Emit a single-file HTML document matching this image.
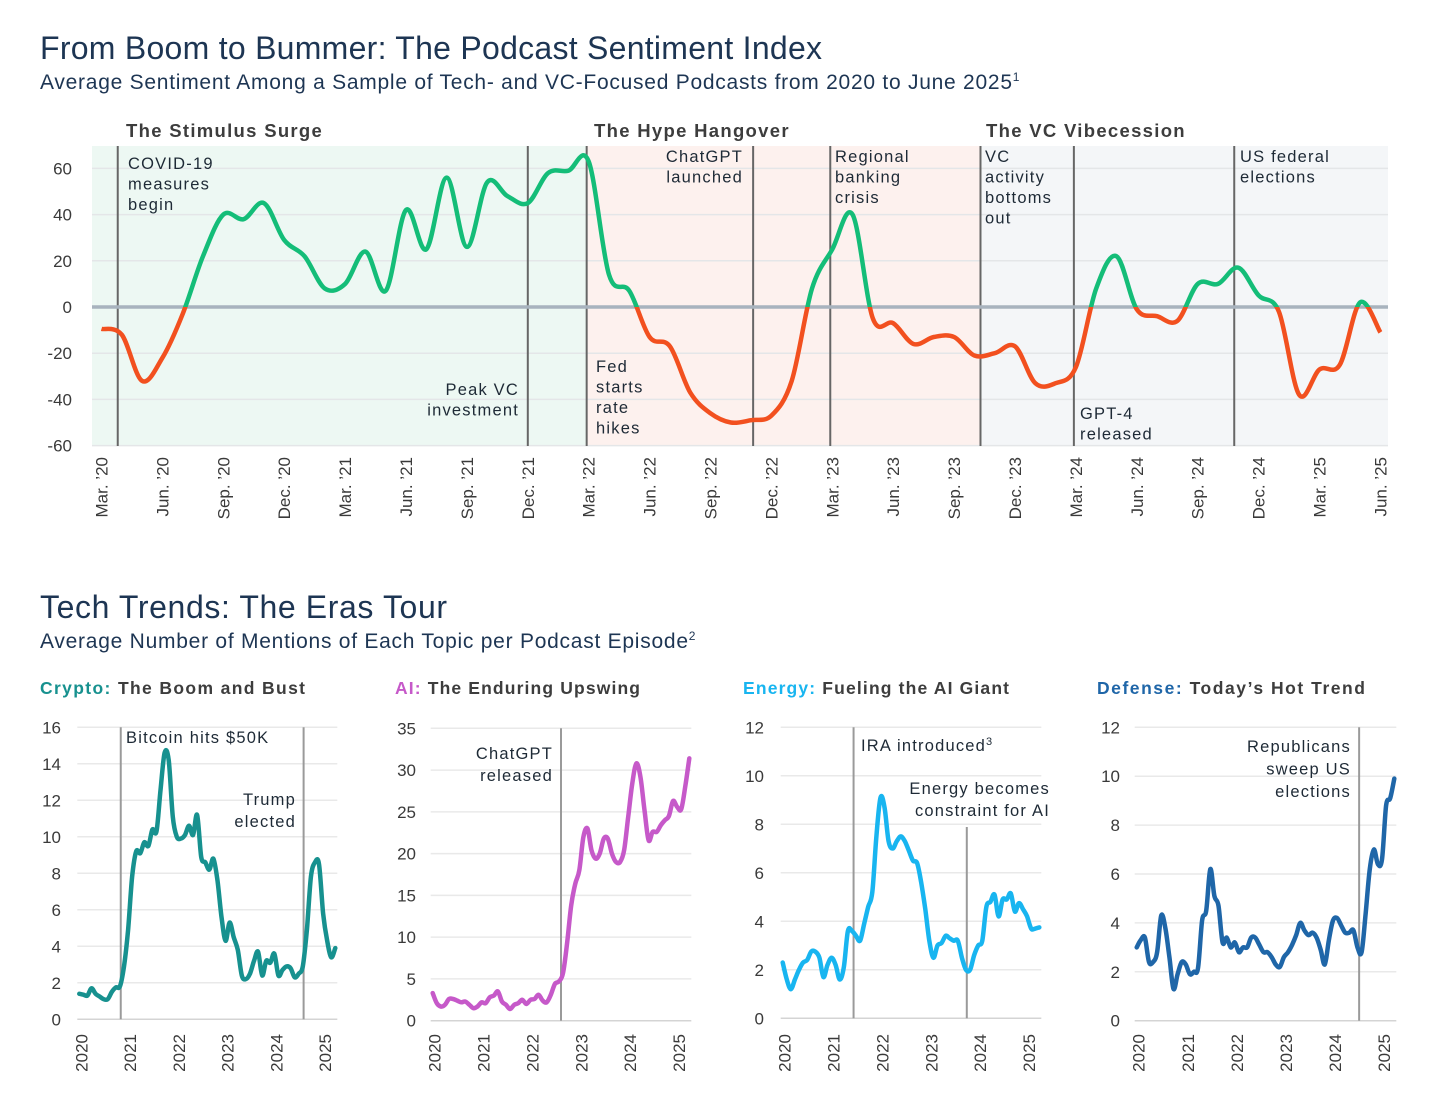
<!DOCTYPE html>
<html><head><meta charset="utf-8">
<style>
html,body{margin:0;padding:0;background:#fff;}
svg{display:block;font-family:"Liberation Sans",sans-serif;}
.ann{font-size:16.5px;fill:#1e2a36;letter-spacing:1.2px;}
.tick{font-size:17px;fill:#3a3a3a;}
.sec{font-size:18.5px;font-weight:bold;fill:#3d3d3d;letter-spacing:1.3px;}
.st{font-size:17.5px;font-weight:bold;fill:#3d3d3d;}
</style></head>
<body>
<svg id="c" width="1456" height="1103" viewBox="0 0 1456 1103">
<text x="40" y="59" font-size="32" fill="#1d3553" textLength="782">From Boom to Bummer: The Podcast Sentiment Index</text>
<text x="40" y="89" font-size="21" fill="#1d3553"><tspan textLength="972">Average Sentiment Among a Sample of Tech- and VC-Focused Podcasts from 2020 to June 2025</tspan><tspan font-size="12" dy="-8">1</tspan></text>
<text x="40" y="618" font-size="32" fill="#1d3553" textLength="407">Tech Trends: The Eras Tour</text>
<text x="40" y="648" font-size="21" fill="#1d3553"><tspan textLength="648">Average Number of Mentions of Each Topic per Podcast Episode</tspan><tspan font-size="12" dy="-8">2</tspan></text>

<g id="top"></g>
<g id="small"></g>

<text class="sec" x="126" y="137">The Stimulus Surge</text>
<text class="sec" x="594" y="137">The Hype Hangover</text>
<text class="sec" x="986" y="137">The VC Vibecession</text>

<g>
<text class="ann" x="128" y="169"><tspan x="128">COVID-19</tspan><tspan x="128" dy="20.5">measures</tspan><tspan x="128" dy="20.5">begin</tspan></text>
<text class="ann" x="519" y="395" text-anchor="end"><tspan x="519">Peak VC</tspan><tspan x="519" dy="20.5">investment</tspan></text>
<text class="ann" x="596" y="372"><tspan x="596">Fed</tspan><tspan x="596" dy="20.5">starts</tspan><tspan x="596" dy="20.5">rate</tspan><tspan x="596" dy="20.5">hikes</tspan></text>
<text class="ann" x="743" y="162" text-anchor="end"><tspan x="743">ChatGPT</tspan><tspan x="743" dy="20.5">launched</tspan></text>
<text class="ann" x="835" y="162"><tspan x="835">Regional</tspan><tspan x="835" dy="20.5">banking</tspan><tspan x="835" dy="20.5">crisis</tspan></text>
<text class="ann" x="985" y="162"><tspan x="985">VC</tspan><tspan x="985" dy="20.5">activity</tspan><tspan x="985" dy="20.5">bottoms</tspan><tspan x="985" dy="20.5">out</tspan></text>
<text class="ann" x="1080" y="419"><tspan x="1080">GPT-4</tspan><tspan x="1080" dy="20.5">released</tspan></text>
<text class="ann" x="1240" y="162"><tspan x="1240">US federal</tspan><tspan x="1240" dy="20.5">elections</tspan></text>
</g>

<text class="st" x="40" y="694" textLength="265"><tspan fill="#17918f">Crypto:</tspan> The Boom and Bust</text>
<text class="st" x="395" y="694" textLength="245"><tspan fill="#c659c9">AI:</tspan> The Enduring Upswing</text>
<text class="st" x="743" y="694" textLength="266"><tspan fill="#18b5f0">Energy:</tspan> Fueling the AI Giant</text>
<text class="st" x="1097" y="694" textLength="268"><tspan fill="#1f66a8">Defense:</tspan> Today’s Hot Trend</text>

<g>
<text class="ann" x="126" y="743">Bitcoin hits $50K</text>
<text class="ann" x="296" y="805" text-anchor="end"><tspan x="296">Trump</tspan><tspan x="296" dy="22">elected</tspan></text>
<text class="ann" x="553" y="759" text-anchor="end"><tspan x="553">ChatGPT</tspan><tspan x="553" dy="22">released</tspan></text>
<text class="ann" x="861" y="751">IRA introduced<tspan font-size="11" dy="-6">3</tspan></text>
<text class="ann" x="1050" y="794" text-anchor="end"><tspan x="1050">Energy becomes</tspan><tspan x="1050" dy="22">constraint for AI</tspan></text>
<text class="ann" x="1351" y="752" text-anchor="end"><tspan x="1351">Republicans</tspan><tspan x="1351" dy="22.5">sweep US</tspan><tspan x="1351" dy="22.5">elections</tspan></text>
</g>
</svg>
<script>
// ===== Top chart data (monthly, Mar 2020 = month 0) =====
const sentimentValues = [-9.5,-12,-32,-22,-3,22,40,38,45,29,22,8,10,24,7,42,25,56,26,54,48,45,58,59,63,14,7,-13,-17,-37,-46,-50,-49,-47,-32,8,25,40,-5,-7,-16,-13,-13,-21,-20,-17,-33,-33,-26,8,22,-1,-4,-6,10,10,17,5,-2,-38,-27,-25,2,-11];
const sentimentTicks = [-60,-40,-20,0,20,40,60];
const quarterLabels = ["Mar. ’20","Jun. ’20","Sep. ’20","Dec. ’20","Mar. ’21","Jun. ’21","Sep. ’21","Dec. ’21","Mar. ’22","Jun. ’22","Sep. ’22","Dec. ’22","Mar. ’23","Jun. ’23","Sep. ’23","Dec. ’23","Mar. ’24","Jun. ’24","Sep. ’24","Dec. ’24","Mar. ’25","Jun. ’25"];
const eventMonths = [0.8,21,23.9,32.1,35.9,43.3,47.9,55.8];
const eraBounds = [-0.5,23.9,43.3,63.4];

// ===== Small chart data (monthly, Jan 2020 = month 0) =====
const cryptoValues = [1.4,1.35,1.3,1.7,1.4,1.25,1.1,1.1,1.5,1.75,1.8,2.9,4.9,7.8,9.2,9.1,9.7,9.5,10.4,10.3,12.6,14.6,14.2,11.1,10,9.9,10.1,10.6,10.1,11.2,8.9,8.6,8.2,8.8,7.6,5.6,4.3,5.3,4.5,3.8,2.4,2.2,2.5,3.2,3.7,2.4,3.2,3.1,3.6,2.4,2.7,2.9,2.8,2.3,2.5,2.9,4.9,7.8,8.6,8.5,5.8,4.3,3.4,3.9];
const aiValues = [3.3,2.1,1.7,1.9,2.6,2.6,2.4,2.2,2.3,1.9,1.5,1.7,2.2,2.1,2.8,3.0,3.5,2.3,1.9,1.4,1.9,2.1,2.5,2.0,2.5,2.6,3.1,2.4,2.2,3.1,4.4,4.7,5.7,9.3,13.8,16.4,18,22,23,20.4,19.4,20,21.8,21.8,20,19,19,20.4,24.4,28.4,30.8,29.2,25.2,21.6,22.6,22.6,23.4,24,24.5,26.3,25.6,25.3,28,31.4];
const energyValues = [2.3,1.6,1.2,1.6,2.0,2.3,2.4,2.75,2.75,2.5,1.7,2.2,2.5,2.2,1.6,2.1,3.6,3.6,3.4,3.2,3.9,4.6,5.2,7.5,9.1,8.7,7.3,7.0,7.3,7.5,7.3,6.9,6.5,6.4,5.6,4.5,3.2,2.5,3.0,3.1,3.4,3.3,3.2,3.2,2.5,2.0,2.0,2.6,3.0,3.2,4.6,4.8,5.1,4.2,4.9,4.9,5.15,4.4,4.75,4.5,4.2,3.7,3.7,3.75];
const defenseValues = [3.0,3.3,3.4,2.4,2.4,2.8,4.3,3.8,2.6,1.3,1.9,2.4,2.3,1.9,2.0,2.15,4.1,4.5,6.2,5.1,4.7,3.2,3.4,3.0,3.2,2.8,3.0,3.0,3.4,3.4,3.1,2.8,2.8,2.6,2.3,2.2,2.6,2.8,3.1,3.5,4.0,3.7,3.5,3.6,3.4,2.9,2.3,3.3,4.1,4.2,3.9,3.6,3.6,3.7,3.0,2.8,4.4,6.2,7.0,6.4,6.6,8.8,9.1,9.9];
const yearLabels = ["2020","2021","2022","2023","2024","2025"];
const cryptoTicks = [0,2,4,6,8,10,12,14,16];
const aiTicks = [0,5,10,15,20,25,30,35];
const energyTicks = [0,2,4,6,8,10,12];
const defenseTicks = [0,2,4,6,8,10,12];
const cryptoEvents = [10.2,55.2];
const aiEvents = [31.5];
const energyEvents = [17.4,45.2];
const defenseEvents = [54.4];

const NS = "http://www.w3.org/2000/svg";
function mk(parent, tag, attrs){ const e=document.createElementNS(NS,tag); for(const k in attrs) e.setAttribute(k,attrs[k]); parent.appendChild(e); return e; }
function smooth(p){
  let d="M"+p[0][0].toFixed(1)+","+p[0][1].toFixed(1);
  for(let i=0;i<p.length-1;i++){
    const p0=p[i-1]||p[i], p1=p[i], p2=p[i+1], p3=p[i+2]||p2;
    const c1x=p1[0]+(p2[0]-p0[0])/6, c1y=p1[1]+(p2[1]-p0[1])/6;
    const c2x=p2[0]-(p3[0]-p1[0])/6, c2y=p2[1]-(p3[1]-p1[1])/6;
    d+=" C"+c1x.toFixed(1)+","+c1y.toFixed(1)+" "+c2x.toFixed(1)+","+c2y.toFixed(1)+" "+p2[0].toFixed(1)+","+p2[1].toFixed(1);
  }
  return d;
}

// ===== Top chart =====
(function(){
  const g=document.getElementById('top');
  const X0=92, X1=1388, Y0=146, Y1=446;
  const xS = m => 101.5 + m*20.3;
  const yS = v => 307 - v*2.31;
  const eraColors=["#edf8f3","#fdf1ee","#f4f6f8"];
  for(let i=0;i<3;i++){
    const a=Math.max(X0,xS(eraBounds[i])), b=Math.min(X1,xS(eraBounds[i+1]));
    const r=mk(g,'rect',{x:a,y:Y0,width:b-a,height:Y1-Y0,fill:eraColors[i]});
    
    
  }
  sentimentTicks.forEach(t=>{
    const l=mk(g,'line',{x1:X0,x2:X1,y1:yS(t),y2:yS(t),stroke:"#e4e6e8","stroke-width":1.5});
    
    
    const tx=mk(g,'text',{x:72,y:yS(t)+6,"text-anchor":"end",class:"tick"});
    tx.textContent=t;
    
    
  });
  eventMonths.forEach(m=>{
    const l=mk(g,'line',{x1:xS(m),x2:xS(m),y1:Y0,y2:Y1,stroke:"#666","stroke-width":2});
    
    
  });
  const z=mk(g,'line',{x1:X0,x2:X1,y1:yS(0),y2:yS(0),stroke:"#a8b3be","stroke-width":3.5});
  
  
  quarterLabels.forEach((lab,i)=>{
    const x=xS(i*3);
    const tx=mk(g,'text',{transform:"translate("+(x+6)+",457) rotate(-90)","text-anchor":"end",class:"tick"});
    tx.textContent=lab;
    
    
  });
  const defs=mk(g,'defs',{});
  const cu=mk(defs,'clipPath',{id:'above'}); mk(cu,'rect',{x:0,y:0,width:1456,height:yS(0)});
  const cd=mk(defs,'clipPath',{id:'below'}); mk(cd,'rect',{x:0,y:yS(0),width:1456,height:600});
  const pts=sentimentValues.map((v,i)=>[xS(i),yS(v)]);
  const d=smooth(pts);
  const pg=mk(g,'path',{d:d,fill:"none",stroke:"#14bd78","stroke-width":4.5,"stroke-linejoin":"round","clip-path":"url(#above)"});
  
  
  const pr=mk(g,'path',{d:d,fill:"none",stroke:"#f2501f","stroke-width":4.5,"stroke-linejoin":"round","clip-path":"url(#below)"});
  
  
})();

// ===== Small charts =====
function smallChart(cfg){
  const g=document.getElementById('small');
  const sg=mk(g,'g',{});
  
  
  const xS = m => cfg.x0 + m*(cfg.x1-cfg.x0)/63;
  const yS = v => cfg.yb - v*(cfg.yb-cfg.yt)/cfg.max;
  cfg.ticks.forEach(t=>{
    const l=mk(sg,'line',{x1:cfg.x0-2,x2:cfg.x1+2,y1:yS(t),y2:yS(t),stroke:t===0?"#d4d4d4":"#e9e9e9","stroke-width":1.5});
    
    
    const tx=mk(sg,'text',{x:cfg.lx,y:yS(t)+6,"text-anchor":"end",class:"tick"});
    tx.textContent=t;
    
    
  });
  yearLabels.forEach((lab,i)=>{
    const x=xS(i*12)+2;
    const tx=mk(sg,'text',{transform:"translate("+(x+6)+",1034) rotate(-90)","text-anchor":"end",class:"tick"});
    tx.textContent=lab;
    
    
  });
  cfg.events.forEach((m,i)=>{
    const top = cfg.eventTops ? cfg.eventTops[i] : cfg.yt;
    const l=mk(sg,'line',{x1:xS(m),x2:xS(m),y1:top,y2:cfg.yb,stroke:"#9a9a9a","stroke-width":2});
    
    
  });
  const p=mk(sg,'path',{d:smooth(cfg.values.map((v,i)=>[xS(i),yS(v)])),fill:"none",stroke:cfg.color,"stroke-width":4.5,"stroke-linejoin":"round","stroke-linecap":"round"});
  
  
}
smallChart({name:'crypto-chart',values:cryptoValues,ticks:cryptoTicks,max:16,events:cryptoEvents,color:"#17918f",x0:79.3,x1:335.3,yb:1019.3,yt:727.3,lx:61});
smallChart({name:'ai-chart',values:aiValues,ticks:aiTicks,max:35,events:aiEvents,color:"#c659c9",x0:432.7,x1:689.3,yb:1020.7,yt:728.3,lx:416});
smallChart({name:'energy-chart',values:energyValues,ticks:energyTicks,max:12,events:energyEvents,eventTops:[727.3,827],color:"#18b5f0",x0:782.7,x1:1039.3,yb:1018.3,yt:727.3,lx:764});
smallChart({name:'defense-chart',values:defenseValues,ticks:defenseTicks,max:12,events:defenseEvents,color:"#1f66a8",x0:1136.7,x1:1394.3,yb:1020.7,yt:727.3,lx:1120});
</script>
</body></html>
